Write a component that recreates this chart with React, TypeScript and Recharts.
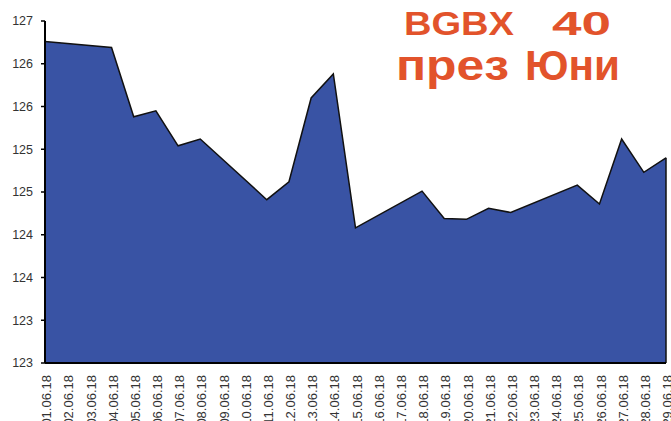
import { Area, AreaChart, ReferenceLine, XAxis, YAxis } from "recharts";

// trading days of June 2018 (weekends have no quote)
const days = [1, 4, 5, 6, 7, 8, 11, 12, 13, 14, 15, 18, 19, 20, 21, 22, 25, 26, 27, 28, 29];
const closes = [
  126.76, 126.69, 125.88, 125.95, 125.54, 125.62, 124.91, 125.12, 126.1, 126.38, 124.58,
  125.01, 124.69, 124.68, 124.81, 124.76, 125.08, 124.86, 125.62, 125.23, 125.4,
];
const dateTicks = Array.from({ length: 29 }, (_, i) => i + 1);
const valueTicks = [123, 123.5, 124, 124.5, 125, 125.5, 126, 126.5, 127];

const data = days.map((d, i) => ({ day: d, value: closes[i] }));
const lastDay = days[days.length - 1];
const lastClose = closes[closes.length - 1];

const FONT = '"Liberation Sans", Arial, sans-serif';
const ORANGE = "#E2532B";

function DateTick({ x, y, payload }: any) {
  const label = `${String(payload.value).padStart(2, "0")}.06.18`;
  const tx = x + 1.5;
  const ty = y + 10;
  return (
    <text
      x={tx}
      y={ty}
      transform={`rotate(-90 ${tx} ${ty})`}
      textAnchor="end"
      dy="0.36em"
      fontSize={13}
      fontFamily={FONT}
      fill="#333"
    >
      {label}
    </text>
  );
}

export default function App() {
  return (
    <div style={{ position: "absolute", left: 0, top: 0, width: 671, height: 421, background: "#fff", overflow: "hidden" }}>
      <AreaChart width={671} height={421} data={data} margin={{ top: 21, right: 5, left: 0, bottom: 0 }}>
        <XAxis
          dataKey="day"
          type="number"
          domain={[1, 29]}
          ticks={dateTicks}
          interval={0}
          height={58}
          tickSize={0}
          tickLine={false}
          axisLine={{ stroke: "#000", strokeWidth: 2 }}
          tick={<DateTick />}
        />
        <YAxis
          type="number"
          domain={[123, 127]}
          ticks={valueTicks}
          width={45}
          tickSize={4}
          tickMargin={8}
          tickFormatter={(v) => String(Math.floor(v))}
          tick={{ fontSize: 12.5, fontFamily: FONT, fill: "#333" }}
          tickLine={{ stroke: "#000", strokeWidth: 1.5 }}
          axisLine={{ stroke: "#000", strokeWidth: 2 }}
        />
        <Area
          type="linear"
          dataKey="value"
          baseValue={123}
          stroke="#111"
          strokeWidth={1.5}
          fill="#3953A4"
          fillOpacity={1}
          isAnimationActive={false}
        />
        <ReferenceLine
          segment={[
            { x: lastDay, y: 123 },
            { x: lastDay, y: lastClose },
          ]}
          stroke="#111"
          strokeWidth={1.5}
        />
      </AreaChart>
      <svg
        width={671}
        height={421}
        style={{ position: "absolute", left: 0, top: 0, pointerEvents: "none" }}
      >
        <g fontFamily={FONT} fontWeight="bold" fill={ORANGE}>
          <text x={404} y={35} fontSize={34} textLength={110} lengthAdjust="spacingAndGlyphs">
            BGBX
          </text>
          <text x={552} y={35} fontSize={34} textLength={59} lengthAdjust="spacingAndGlyphs">
            40
          </text>
          <text x={396} y={80} fontSize={42} textLength={113} lengthAdjust="spacingAndGlyphs">
            през
          </text>
          <text x={525} y={80} fontSize={42} textLength={95} lengthAdjust="spacingAndGlyphs">
            Юни
          </text>
        </g>
      </svg>
    </div>
  );
}
